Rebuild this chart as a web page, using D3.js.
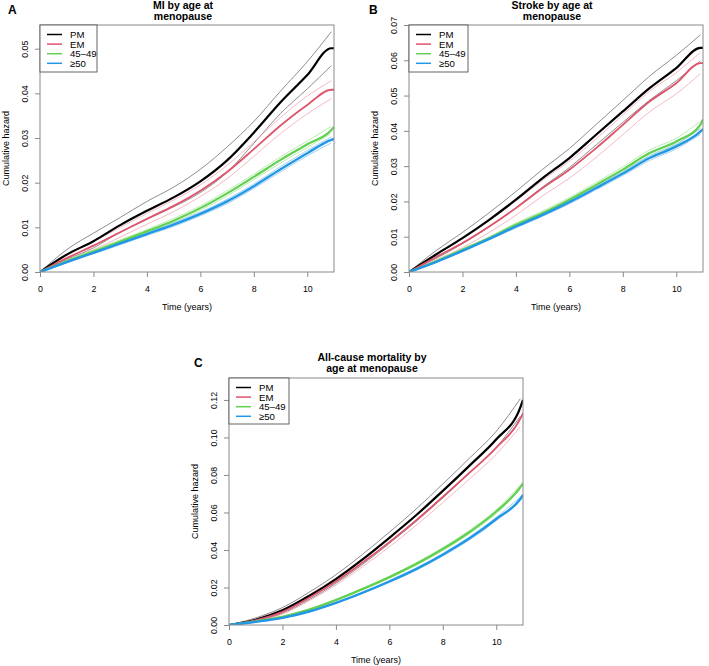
<!DOCTYPE html>
<html><head><meta charset="utf-8">
<script src="https://cdn.jsdelivr.net/npm/d3@7"></script>
<style>body{margin:0;background:#fff}text{font-family:"Liberation Sans",Arial,Helvetica,sans-serif}</style>
</head><body><svg id="c" width="709" height="666"></svg>
<script>
const times = [0,1,2,3,4,5,6,7,8,9,10,10.9,11];
const groups = ["PM","EM","45\u201349","\u226550"];
const xTicks = [0,2,4,6,8,10];

// Panel A: MI
const pmA    = [0,.0039,.0069,.0105,.0137,.0167,.0203,.0250,.0312,.0380,.0441,.0501,.0501];
const pmA_hi = [0,.0050,.0087,.0122,.0158,.0190,.0230,.0280,.0337,.0405,.0471,.0538,.0538];
const pmA_lo = [0,.0028,.0054,.0089,.0118,.0146,.0178,.0223,.0288,.0355,.0410,.0462,.0462];
const emA    = [0,.0031,.0059,.0089,.0119,.0148,.0182,.0224,.0275,.0328,.0374,.0408,.0408];
const emA_hi = [0,.0037,.0068,.0100,.0131,.0161,.0195,.0239,.0291,.0346,.0394,.0428,.0428];
const emA_lo = [0,.0025,.0050,.0078,.0107,.0135,.0169,.0209,.0259,.0310,.0354,.0388,.0388];
const g45A   = [0,.0024,.0046,.0068,.0091,.0115,.0143,.0176,.0213,.0251,.0286,.0318,.0325];
const g45A_hi= [0,.0026,.0049,.0072,.0095,.0120,.0148,.0182,.0219,.0258,.0293,.0326,.0333];
const g45A_lo= [0,.0022,.0043,.0064,.0087,.0110,.0138,.0170,.0207,.0244,.0279,.0310,.0317];
const ge50A  = [0,.0022,.0043,.0064,.0085,.0106,.0130,.0158,.0192,.0230,.0266,.0296,.0298];
const ge50A_hi=[0,.0023,.0045,.0067,.0088,.0110,.0134,.0163,.0197,.0236,.0272,.0303,.0305];
const ge50A_lo=[0,.0021,.0041,.0061,.0082,.0102,.0126,.0153,.0187,.0224,.0260,.0289,.0291];
const yTicksA = [0,.01,.02,.03,.04,.05];

// Panel B: Stroke
const pmB    = [0,.0049,.0096,.0148,.0205,.0266,.0323,.0389,.0455,.0521,.0578,.0635,.0635];
const pmB_hi = [0,.0060,.0112,.0168,.0228,.0291,.0350,.0418,.0486,.0555,.0614,.0672,.0672];
const pmB_lo = [0,.0038,.0080,.0128,.0182,.0241,.0296,.0360,.0424,.0487,.0542,.0598,.0598];
const emB    = [0,.0042,.0082,.0129,.0181,.0238,.0290,.0351,.0417,.0483,.0535,.0592,.0592];
const emB_hi = [0,.0050,.0095,.0146,.0201,.0260,.0314,.0377,.0445,.0512,.0565,.0622,.0622];
const emB_lo = [0,.0034,.0069,.0112,.0161,.0216,.0266,.0325,.0389,.0454,.0505,.0562,.0562];
const g45B   = [0,.0030,.0063,.0096,.0134,.0167,.0205,.0247,.0290,.0337,.0370,.0417,.0432];
const g45B_hi= [0,.0032,.0066,.0100,.0139,.0173,.0211,.0254,.0298,.0346,.0379,.0427,.0442];
const g45B_lo= [0,.0028,.0060,.0092,.0129,.0161,.0199,.0240,.0282,.0328,.0361,.0407,.0422];
const ge50B  = [0,.0028,.0060,.0094,.0129,.0162,.0198,.0238,.0279,.0323,.0356,.0398,.0405];
const ge50B_hi=[0,.0029,.0062,.0097,.0133,.0166,.0203,.0243,.0285,.0330,.0363,.0406,.0413];
const ge50B_lo=[0,.0027,.0058,.0091,.0125,.0158,.0193,.0233,.0273,.0316,.0349,.0390,.0397];
const yTicksB = [0,.01,.02,.03,.04,.05,.06,.07];

// Panel C: All-cause mortality
const pmC    = [0,.0028,.0078,.0155,.0245,.0350,.0465,.0585,.0715,.0850,.0990,.1160,.1200];
const pmC_hi = [0,.0038,.0093,.0175,.0268,.0377,.0495,.0618,.0752,.0890,.1033,.1207,.1248];
const pmC_lo = [0,.0018,.0063,.0135,.0222,.0323,.0435,.0552,.0678,.0810,.0947,.1113,.1152];
const emC    = [0,.0025,.0070,.0145,.0232,.0333,.0442,.0558,.0683,.0812,.0946,.1100,.1130];
const emC_hi = [0,.0033,.0082,.0161,.0251,.0355,.0467,.0585,.0713,.0845,.0982,.1142,.1172];
const emC_lo = [0,.0017,.0058,.0129,.0213,.0311,.0417,.0531,.0653,.0779,.0910,.1058,.1088];
const g45C   = [0,.0020,.0044,.0082,.0133,.0192,.0255,.0325,.0405,.0496,.0605,.0735,.0756];
const g45C_hi= [0,.0021,.0046,.0085,.0137,.0197,.0261,.0332,.0413,.0505,.0615,.0746,.0767];
const g45C_lo= [0,.0019,.0042,.0079,.0129,.0187,.0249,.0318,.0397,.0487,.0595,.0724,.0745];
const ge50C  = [0,.0017,.0038,.0072,.0118,.0172,.0232,.0298,.0375,.0462,.0565,.0672,.0693];
const ge50C_hi=[0,.0018,.0040,.0074,.0121,.0176,.0237,.0304,.0382,.0470,.0574,.0682,.0703];
const ge50C_lo=[0,.0016,.0036,.0070,.0115,.0168,.0227,.0292,.0368,.0454,.0556,.0662,.0683];
const yTicksC = [0,.02,.04,.06,.08,.10,.12];

const colors   = ["#000000","#DF536B","#61D04F","#2297E6"];
const ciColors = ["#707070","#F2A7B4","#A8E69C","#8EC6F0"];
const mainW    = [2.2,1.8,2.2,2.4];

const panels = [
  {letter:"A", title:["MI by age at","menopause"], box:[40,334,25,272], ymax:.0553, yTicks:yTicksA, fmt:".2f",
   main:[pmA,emA,g45A,ge50A], hi:[pmA_hi,emA_hi,g45A_hi,ge50A_hi], lo:[pmA_lo,emA_lo,g45A_lo,ge50A_lo],
   legW:57, legH:47, letterPos:[8,14], titleY:9},
  {letter:"B", title:["Stroke by age at","menopause"], box:[409,703,25,272], ymax:.0700, yTicks:yTicksB, fmt:".2f",
   main:[pmB,emB,g45B,ge50B], hi:[pmB_hi,emB_hi,g45B_hi,ge50B_hi], lo:[pmB_lo,emB_lo,g45B_lo,ge50B_lo],
   legW:59, legH:47, letterPos:[369,14], titleY:9},
  {letter:"C", title:["All-cause mortality by","age at menopause"], box:[229,523,378,625], ymax:.1317, yTicks:yTicksC, fmt:".2f",
   main:[pmC,emC,g45C,ge50C], hi:[pmC_hi,emC_hi,g45C_hi,ge50C_hi], lo:[pmC_lo,emC_lo,g45C_lo,ge50C_lo],
   legW:60, legH:46, letterPos:[194,367], titleY:361}
];

const svg = d3.select("#c");
const gray = "#8a8a8a";

panels.forEach(p => {
  const [L,R,T,B] = p.box;
  const x = d3.scaleLinear().domain([0,11]).range([L,R]);
  const y = d3.scaleLinear().domain([0,p.ymax]).range([B,T]);
  const g = svg.append("g");

  const cid = "clip"+p.letter;
  g.append("clipPath").attr("id",cid).append("rect").attr("x",L).attr("y",T).attr("width",R-L).attr("height",B-T);

  const line = d3.line().x((d,i)=>x(times[i])).y(d=>y(d)).curve(d3.curveMonotoneX);
  const plot = g.append("g").attr("clip-path",`url(#${cid})`);
  for (let k=0;k<4;k++){
    [p.hi[k], p.lo[k]].forEach(arr=>{
      plot.append("path").attr("d", line(arr.slice(0,12))).attr("fill","none")
        .attr("stroke",ciColors[k]).attr("stroke-width",0.8);
    });
  }
  for (let k=0;k<4;k++){
    plot.append("path").attr("d", line(p.main[k])).attr("fill","none")
      .attr("stroke",colors[k]).attr("stroke-width",mainW[k]).attr("stroke-linejoin","round");
  }

  const xa = g.append("g").attr("transform",`translate(0,${B})`)
    .call(d3.axisBottom(x).tickValues(xTicks).tickSize(5).tickFormat(d3.format("d")));
  xa.select(".domain").remove();
  xa.selectAll("line").attr("stroke",gray);
  xa.selectAll("text").attr("y",19.5).attr("dy",0).attr("font-size","8.8px").attr("fill","#000");

  const ya = g.append("g").attr("transform",`translate(${L},0)`)
    .call(d3.axisLeft(y).tickValues(p.yTicks).tickSize(5).tickFormat(d3.format(p.fmt)));
  ya.select(".domain").remove();
  ya.selectAll("line").attr("stroke",gray);
  ya.selectAll("text").attr("x",0).attr("dy",0).attr("text-anchor","middle")
    .attr("transform","translate(-12,0) rotate(-90)").attr("font-size","8.8px").attr("fill","#000");

  g.append("rect").attr("x",L).attr("y",T).attr("width",R-L).attr("height",B-T)
    .attr("fill","none").attr("stroke",gray).attr("stroke-width",1);

  g.append("text").attr("x",(L+R)/2).attr("y",B+38).attr("text-anchor","middle")
    .attr("font-size","9px").text("Time (years)");
  g.append("text").attr("transform",`translate(${L-31},${(T+B)/2}) rotate(-90)`).attr("text-anchor","middle")
    .attr("font-size","9px").text("Cumulative hazard");
  p.title.forEach((t,i)=>{
    g.append("text").attr("x",(L+R)/2 - 4).attr("y",p.titleY + i*10.8).attr("text-anchor","middle")
      .attr("font-size","10.5px").attr("font-weight","bold").text(t);
  });
  g.append("text").attr("x",p.letterPos[0]).attr("y",p.letterPos[1]).attr("font-size","12px")
    .attr("font-weight","bold").text(p.letter);

  const lg = g.append("g").attr("transform",`translate(${L},${T})`);
  lg.append("rect").attr("width",p.legW).attr("height",p.legH).attr("fill","#fff")
    .attr("stroke","#555").attr("stroke-width",0.9);
  groups.forEach((name,k)=>{
    const yy = 9.5 + k*9.6;
    lg.append("line").attr("x1",7).attr("x2",22).attr("y1",yy).attr("y2",yy)
      .attr("stroke",colors[k]).attr("stroke-width",1.5);
    lg.append("text").attr("x",30).attr("y",yy+3.4).attr("font-size","9.6px").text(name);
  });
});
</script></body></html>
